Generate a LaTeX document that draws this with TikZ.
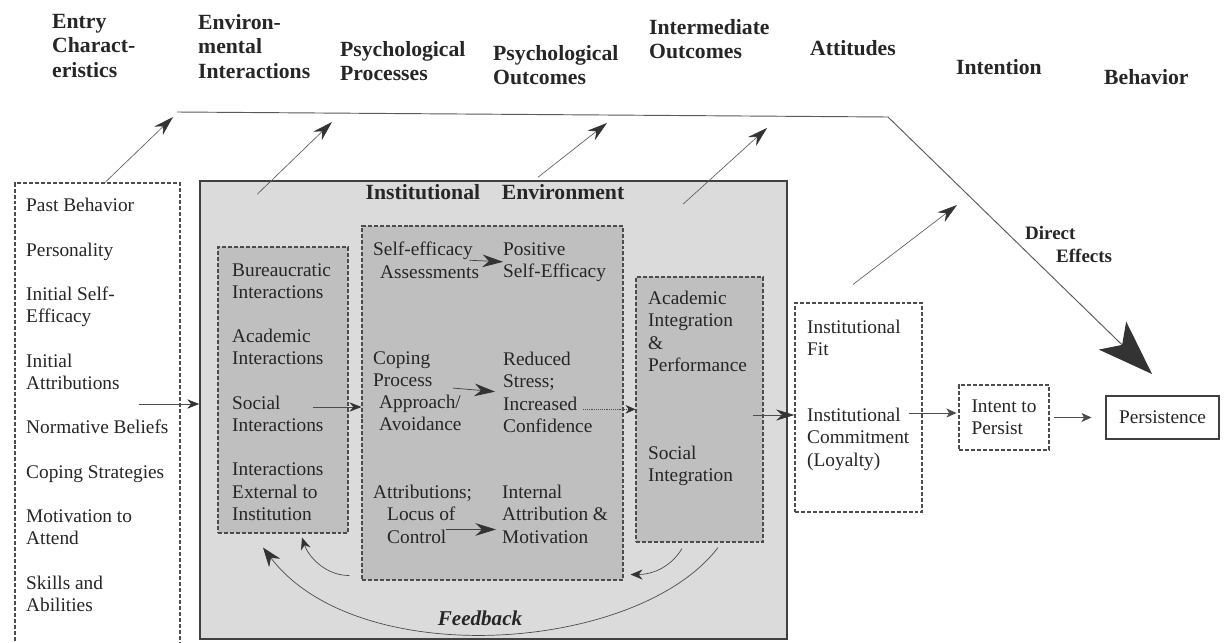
\documentclass[tikz,border=0pt]{standalone}
\usepackage{fontspec}
\setmainfont{Liberation Serif}
\usetikzlibrary{arrows.meta, positioning, calc}
\definecolor{envgray}{gray}{0.86}
\definecolor{boxgray}{gray}{0.75}
\definecolor{ink}{gray}{0.15}
\definecolor{lgray}{gray}{0.30}
\newcommand{\hdfont}{\fontsize{18.5pt}{20.9pt}\selectfont\bfseries}
\newcommand{\txfont}{\fontsize{16.5pt}{18.95pt}\selectfont}

\begin{document}
\begin{tikzpicture}[
    x=0.03cm, y=-0.03cm,
    hdr/.style={anchor=north west, inner sep=0pt, align=left, font=\hdfont, text=ink},
    txt/.style={anchor=north west, inner sep=0pt, align=left, font=\txfont, text=ink},
    dbox/.style={draw=lgray, line width=0.9pt, dash pattern=on 3.4pt off 1.7pt, fill=#1},
    dbox/.default=white,
    arr/.style={-{Stealth[length=0.36cm, width=0.28cm, color=black!80]}, line width=0.6pt, draw=black!70},
    uparr/.style={-{Stealth[length=0.6cm, width=0.36cm, color=black!80]}, line width=0.55pt, draw=black!65},
    inarr/.style={-{Stealth[length=0.62cm, width=0.38cm, color=black!80]}, line width=0.6pt, draw=black!75},
    dotarr/.style={-{Stealth[length=0.3cm, width=0.26cm, color=black!80]}, line width=0.6pt, densely dotted, draw=black!70},
    midarr/.style={-{Stealth[length=0.55cm, width=0.33cm, color=black!80]}, line width=0.6pt, draw=black!70},
    smallarr/.style={-{Stealth[length=0.3cm, width=0.27cm, inset=0.08cm]}, line width=0.6pt, draw=black!70},
    fbarr/.style={-{Stealth[length=0.36cm, width=0.3cm, color=black!80]}, line width=0.6pt, draw=black!70},
    fbbig/.style={-{Stealth[length=0.58cm, width=0.42cm, color=black!80]}, line width=0.6pt, draw=black!70},
    bigarr/.style={-{Stealth[length=1.65cm, width=1.17cm, inset=0.4cm, color=black!80]}, line width=0.8pt, draw=black!65}
]
\useasboundingbox (0,0) rectangle (1225,643);

% stage headings
\node[hdr] (hent) at (52,14) {Entry\\Charact-\\eristics};
\node[hdr] (henv) at (198,14) {Environ-\\mental\\Interactions};
\node[hdr] (hproc) at (340,41) {Psychological\\Processes};
\node[hdr] (hout) at (493,45) {Psychological\\Outcomes};
\node[hdr] (hmid) at (649,19) {Intermediate\\Outcomes};
\node[hdr] (hatt) at (810,40) {Attitudes};
\node[hdr] (hint) at (956,59) {Intention};
\node[hdr] (hbeh) at (1104,69) {Behavior};

% frames
\node[dbox, minimum width=4.95cm, minimum height=14.31cm] (entry) at (97.5,421.5) {};
\node[draw=black!75, line width=1.3pt, fill=envgray, minimum width=17.61cm, minimum height=13.74cm] (env) at (493.5,410) {};
\node[dbox=boxgray, minimum width=3.9cm, minimum height=8.58cm] (intr) at (283,390) {};
\node[dbox=boxgray, minimum width=7.83cm, minimum height=10.62cm] (psy) at (492.5,403) {};
\node[dbox=boxgray, minimum width=3.81cm, minimum height=7.95cm] (intg) at (699.5,409.5) {};
\node[dbox, minimum width=3.81cm, minimum height=6.27cm] (inst) at (858.5,407.5) {};
\node[dbox, txt, anchor=center, minimum width=2.7cm, minimum height=1.95cm] (intent) at (1004,417.5) {Intent to\\Persist};
\node[draw=black!75, line width=0.9pt, font=\txfont, text=ink, minimum width=3.39cm, minimum height=1.29cm] (persist) at (1162.5,417.5) {Persistence};

\node[font=\hdfont, text=ink, inner sep=0pt] (ttl) at (495,192) {Institutional\hspace{1em}Environment};

% box contents
\node[txt] (entxt) at (26,198) {Past Behavior\\[0.666cm]Personality\\[0.666cm]Initial Self-\\Efficacy\\[0.666cm]Initial\\Attributions\\[0.666cm]Normative Beliefs\\[0.666cm]Coping Strategies\\[0.666cm]Motivation to\\Attend\\[0.666cm]Skills and\\Abilities};
\node[txt] (intxt) at (232,263) {Bureaucratic\\Interactions\\[0.666cm]Academic\\Interactions\\[0.666cm]Social\\Interactions\\[0.666cm]Interactions\\External to\\Institution};
\node[txt] (sea) at (373,242) {Self-efficacy\\\hspace*{0.21cm}Assessments};
\node[txt] (pse) at (503,242) {Positive\\Self-Efficacy};
\node[txt] (cop) at (373,351) {Coping\\Process\\\hspace*{0.18cm}Approach/\\\hspace*{0.18cm}Avoidance};
\node[txt] (red) at (503,352) {Reduced\\Stress;\\Increased\\Confidence};
\node[txt] (att) at (373,485) {Attributions;\\\hspace*{0.42cm}Locus of\\\hspace*{0.42cm}Control};
\node[txt] (inat) at (502,485) {Internal\\Attribution \&\\Motivation};
\node[txt] (acad) at (648,291) {Academic\\Integration\\\&\\Performance};
\node[txt] (soc) at (648,446) {Social\\Integration};
\node[txt] (fit) at (807,320) {Institutional\\Fit};
\node[txt] (comm) at (807,408) {Institutional\\Commitment\\(Loyalty)};
\node[anchor=north west, inner sep=0pt, align=left, text=ink, font=\fontsize{16.2pt}{19.6pt}\selectfont\bfseries] (deff) at (1025,226) {Direct\\\hspace*{0.93cm}Effects};
\node[inner sep=0pt, text=ink, font=\fontsize{18pt}{20pt}\selectfont\bfseries\itshape] (fb) at (480,618) {Feedback};

% free ends of the upward arrows and of the direct-effects line
\coordinate (u1) at (173,117);
\coordinate (u2) at (332,122);
\coordinate (u3) at (607,123);
\coordinate (u4) at (767,128);
\coordinate (u5) at (957,205);
\coordinate (lstart) at (177,112);
\coordinate (lbend) at (888,117);
\coordinate (ltip) at (1152,374);

\draw[bigarr] (lstart) -- (lbend) -- (ltip);
\draw[uparr] (entry.north) ++(7.5,0) -- (u1);
\draw[uparr] (env.north west) ++(58,14) -- (u2);
\draw[uparr] (env.north) ++(44.5,-3) -- (u3);
\draw[uparr] (env.north) ++(189.5,24) -- (u4);
\draw[uparr] (inst.north) ++(-5.5,-18) -- (u5);

% main flow
\draw[arr] (entry.east) ++(-42,-17.5) coordinate (e1) -- (e1 -| env.west);
\draw[arr] (intr.east) ++(-36,17) coordinate (s1) -- (s1 -| psy.west);
\draw[inarr] (sea.east) ++(-10,0) -- (pse.west);
\draw[inarr, shorten >=0.24cm] (cop.east) ++(-9,-3) -- (red.west);
\draw[inarr, shorten >=0.18cm] (att.south east) ++(-26,-14) coordinate (a1) -- (a1 -| inat.west);
\draw[dotarr] (red.west) ++(80,17) coordinate (r1) -- (r1 -| intg.west);
\draw[midarr] (intg.east) ++(-11,5.5) coordinate (g1) -- (g1 -| inst.west);
\draw[smallarr, shorten >=0.06cm] (inst.east) ++(-14,5.5) coordinate (f1) -- (f1 -| intent.west);
\draw[smallarr, shorten <=0.12cm, shorten >=0.42cm] (intent.east) -- (persist.west);

% feedback
\draw[fbarr] (intg.south) ++(-17.5,6) .. controls +(-12,20) and +(20,0) .. ($(psy.south east)+(7,-6)$);
\draw[fbarr] (psy.south west) ++(-12,-5) .. controls +(-25,0) and +(6,18) .. ($(intr.south)+(19,4)$);
\draw[fbbig] (intg.south) ++(18.5,5) .. controls +(-80,105) and +(95,125) .. ($(intr.south)+(-20,14)$);

\end{tikzpicture}
\end{document}
